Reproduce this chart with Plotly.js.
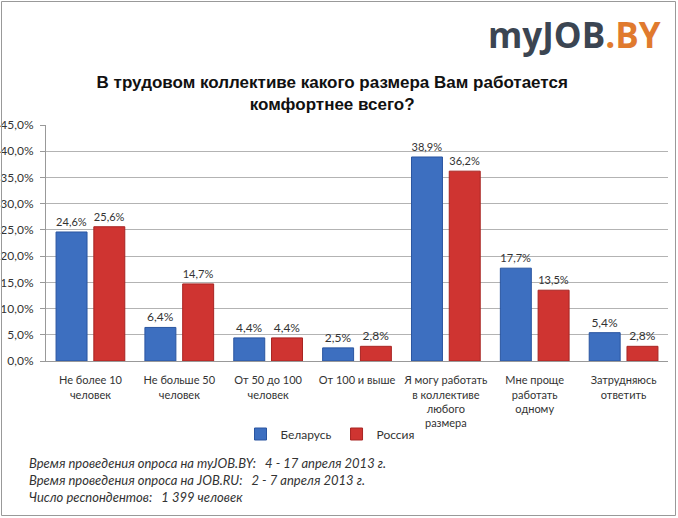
<!DOCTYPE html>
<html><head><meta charset="utf-8">
<script src="https://cdn.plot.ly/plotly-3.0.1.min.js"></script>
<style>html,body{margin:0;padding:0;background:#fff}#c{width:678px;height:518px}</style>
</head><body><div id="c"></div>
<script>
const categories = ["Не более 10<br>человек","Не больше 50<br>человек","От 50 до 100<br>человек","От 100 и выше","Я могу работать<br>в коллективе<br>любого<br>размера","Мне проще<br>работать<br>одному","Затрудняюсь<br>ответить"];
const belarus = [24.6, 6.4, 4.4, 2.5, 38.9, 17.7, 5.4];
const russia = [25.6, 14.7, 4.4, 2.8, 36.2, 13.5, 2.8];
const seriesNames = ["Беларусь","Россия"];
const yTicks = [0,5,10,15,20,25,30,35,40,45];
const fmt = v => v.toFixed(1).replace('.', ',') + '%';

const font = "Lato, 'Open Sans', sans-serif";
const L = 46, R = 10, T = 125, B = 157, W = 678, H = 518;
const pw = W - L - R, ph = H - T - B;
const px = x => (x - L) / pw;
const py = y => (H - B - y) / ph;

const traces = [
  {type:'bar', name:seriesNames[0], x:categories, y:belarus, text:belarus.map(fmt), textposition:'outside', cliponaxis:false,
   marker:{color:'#3d6fc0', line:{color:'#2a55a0', width:1}}, textfont:{size:12, color:'#333', family:font}},
  {type:'bar', name:seriesNames[1], x:categories, y:russia, text:russia.map(fmt), textposition:'outside', cliponaxis:false,
   marker:{color:'#cf3431', line:{color:'#a82422', width:1}}, textfont:{size:12, color:'#333', family:font}}
];
const layout = {
  width:W, height:H, paper_bgcolor:'#fff', plot_bgcolor:'#fff',
  margin:{l:L, r:R, t:T, b:B},
  font:{family:font, size:12, color:'#333'},
  bargap:0.15, bargroupgap:0.18,
  showlegend:true,
  legend:{orientation:'h', x:px(330), xanchor:'center', y:py(434), yanchor:'middle', bgcolor:'rgba(0,0,0,0)', font:{size:12, color:'#333'}, traceorder:'normal', itemwidth:30},
  xaxis:{tickfont:{size:11, color:'#333'}, showline:true, linecolor:'#999', ticks:'', automargin:false, tickangle:0, ticklabelstandoff:9},
  yaxis:{range:[0,45], tickvals:yTicks, ticktext:yTicks.map(fmt), showgrid:true, gridcolor:'#b3b3b3', gridwidth:1,
         showline:true, linecolor:'#999', ticks:'outside', ticklen:5, tickcolor:'#999', tickfont:{size:12, color:'#333'}, zeroline:false, automargin:false, ticklabelstandoff:4},
  title:{text:'<b>В трудовом коллективе какого размера Вам работается<br>комфортнее всего?</b>', x:0.49, xanchor:'center', y:1 - 88/H, yanchor:'middle', font:{size:17, color:'#111', family:"'Liberation Sans', Arial, sans-serif"}},
  annotations:[
    {xref:'paper', yref:'paper', x:px(663), y:py(35), xanchor:'right', yanchor:'middle', showarrow:false,
     text:'<b><span style="color:#3b4552">myJOB</span><span style="color:#e07a2e">.BY</span></b>', font:{size:35, family:"'Open Sans', sans-serif"}},
    {xref:'paper', yref:'paper', x:px(27), y:py(453), xanchor:'left', yanchor:'top', showarrow:false, align:'left',
     text:'<i>Время проведения опроса на myJOB.BY:   4 - 17 апреля 2013 г.<br>Время проведения опроса на JOB.RU:   2 - 7 апреля 2013 г.<br>Число респондентов:   1 399 человек</i>', font:{size:13, color:'#333'}}
  ],
  shapes:[{type:'rect', xref:'paper', yref:'paper', x0:px(1.5), x1:px(675.5), y0:py(515.5), y1:py(1.5), line:{color:'#999', width:1}}]
};
Plotly.newPlot('c', traces, layout, {displayModeBar:false});
</script></body></html>
